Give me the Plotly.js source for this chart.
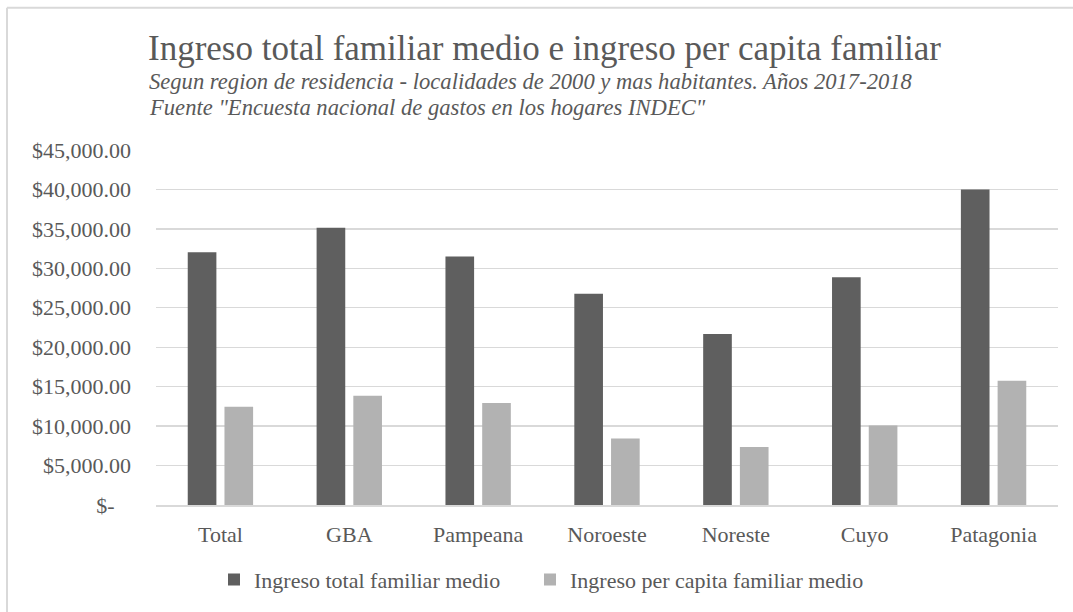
<!DOCTYPE html>
<html>
<head>
<meta charset="utf-8">
<script src="https://cdn.plot.ly/plotly-3.0.1.min.js"></script>
<style>
  html, body { margin: 0; padding: 0; background: #ffffff; }
  #chart { width: 1073px; height: 612px; }
</style>
</head>
<body>
<div id="chart"></div>
<script>
// ---- Data ----
const categories = ["Total", "GBA", "Pampeana", "Noroeste", "Noreste", "Cuyo", "Patagonia"];
const ingresoTotalFamiliar = [32050, 35150, 31500, 26780, 21680, 28870, 40000];
const ingresoPerCapita = [12450, 13840, 12940, 8420, 7360, 10080, 15760];
const seriesNames = ["Ingreso total familiar medio", "Ingreso per capita familiar medio"];
const yTickValues = [0, 5000, 10000, 15000, 20000, 25000, 30000, 35000, 40000, 45000];
const yTickLabels = ["$-\u00a0\u00a0\u00a0", "$5,000.00", "$10,000.00", "$15,000.00", "$20,000.00",
                     "$25,000.00", "$30,000.00", "$35,000.00", "$40,000.00", "$45,000.00"];
const titleText = "Ingreso total familiar medio e ingreso per capita familiar";
const subtitle1 = "Segun region de residencia - localidades de 2000 y mas habitantes. Años 2017-2018";
const subtitle2 = "Fuente \"Encuesta nacional de gastos en los hogares INDEC\"";

// ---- Layout helpers ----
const W = 1073, H = 612;
const M = { l: 156, r: 15, t: 150, b: 105 };
const PW = W - M.l - M.r, PH = H - M.t - M.b;
const px = x => (x - M.l) / PW;          // page pixel x -> paper
const py = y => (H - M.b - y) / PH;      // page pixel y -> paper

const FONT = "'Liberation Serif', 'Times New Roman', Times, serif";
const TXT = "#595959";
const GRID = "#d9d9d9";

const traces = [
  { type: "bar", name: seriesNames[0], x: categories, y: ingresoTotalFamiliar,
    marker: { color: "#5f5f5f" }, hoverinfo: "skip", legend: "legend" },
  { type: "bar", name: seriesNames[1], x: categories, y: ingresoPerCapita,
    marker: { color: "#b2b2b2" }, hoverinfo: "skip", legend: "legend2" }
];

const legendBase = {
  orientation: "h",
  yanchor: "middle", y: py(582),
  xanchor: "left",
  font: { family: FONT, size: 22, color: TXT },
  itemclick: false, itemdoubleclick: false,
  bgcolor: "rgba(0,0,0,0)"
};

const layout = {
  width: W, height: H,
  margin: M,
  paper_bgcolor: "#ffffff", plot_bgcolor: "#ffffff",
  font: { family: FONT, color: TXT, size: 22 },
  barmode: "group",
  bargap: 0.43,
  bargroupgap: 0.22,
  showlegend: true,
  legend: Object.assign({}, legendBase, { x: px(214) }),
  legend2: Object.assign({}, legendBase, { x: px(530) }),
  xaxis: {
    type: "category",
    showgrid: false,
    showline: true, linecolor: GRID, linewidth: 1.5,
    ticks: "", ticklabelstandoff: 9,
    tickfont: { family: FONT, size: 22, color: TXT },
    fixedrange: true
  },
  yaxis: {
    range: [0, 45000],
    tickvals: yTickValues,
    ticktext: yTickLabels,
    showgrid: true, gridcolor: GRID, gridwidth: 1.3,
    zeroline: false, showline: false,
    ticks: "", ticklabelstandoff: 24,
    tickfont: { family: FONT, size: 22, color: TXT },
    fixedrange: true
  },
  annotations: [
    { text: titleText, xref: "paper", yref: "paper", x: px(146), y: py(48), xanchor: "left", yanchor: "middle",
      showarrow: false, font: { family: FONT, size: 35, color: TXT } },
    { text: "<i>" + subtitle1 + "</i>", xref: "paper", yref: "paper", x: px(147), y: py(81), xanchor: "left", yanchor: "middle",
      showarrow: false, font: { family: FONT, size: 22.6, color: TXT } },
    { text: "<i>" + subtitle2 + "</i>", xref: "paper", yref: "paper", x: px(147), y: py(107), xanchor: "left", yanchor: "middle",
      showarrow: false, font: { family: FONT, size: 22.6, color: TXT } }
  ],
  shapes: [
    { type: "line", xref: "paper", yref: "paper", x0: px(7), x1: px(W + 5), y0: py(7), y1: py(7),
      line: { color: GRID, width: 2 } },
    { type: "line", xref: "paper", yref: "paper", x0: px(7), x1: px(7), y0: py(7), y1: py(H + 5),
      line: { color: GRID, width: 2 } }
  ]
};

Plotly.newPlot("chart", traces, layout, { displayModeBar: false, staticPlot: true });
</script>
</body>
</html>
